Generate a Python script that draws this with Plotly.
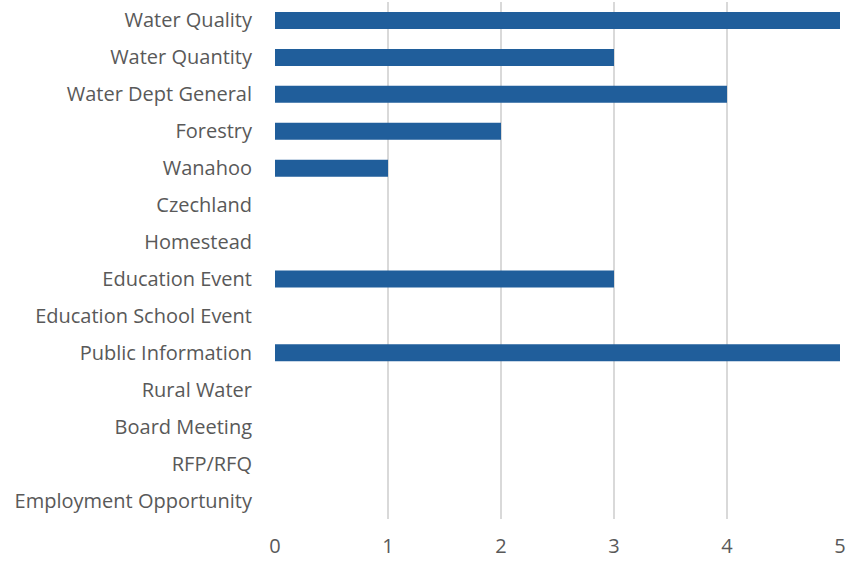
import plotly.graph_objects as go

categories = ["Water Quality", "Water Quantity", "Water Dept General", "Forestry", "Wanahoo",
              "Czechland", "Homestead", "Education Event", "Education School Event",
              "Public Information", "Rural Water", "Board Meeting", "RFP/RFQ",
              "Employment Opportunity"]
values = [6, 3, 4, 2, 1, 0, 0, 3, 0, 5, 0, 0, 0, 0]
x_ticks = [0, 1, 2, 3, 4, 5]

fig = go.Figure(go.Bar(
    y=categories, x=values, orientation="h",
    marker=dict(color="#205E9B", line=dict(width=0)),
))

font = dict(family="Open Sans, Roboto, sans-serif", size=20, color="#595959")
fig.update_layout(
    width=853, height=561,
    margin=dict(l=275, r=13, t=2, b=42, autoexpand=False),
    paper_bgcolor="white", plot_bgcolor="white",
    bargap=0.54, showlegend=False, font=font,
)
fig.update_xaxes(range=[0, 5], tickvals=x_ticks, showgrid=True, gridcolor="#D9D9D9",
                 gridwidth=1.5, zeroline=False, showline=False, ticks="outside",
                 ticklen=9, tickcolor="rgba(0,0,0,0)", tickfont=font, automargin=False)
fig.update_yaxes(autorange="reversed", showgrid=False, zeroline=False, showline=False,
                 ticks="outside", ticklen=18, tickcolor="rgba(0,0,0,0)", tickfont=font,
                 automargin=False)

fig.write_html("out.html", config={"displayModeBar": False},
               post_script="document.body.style.margin='0';")
